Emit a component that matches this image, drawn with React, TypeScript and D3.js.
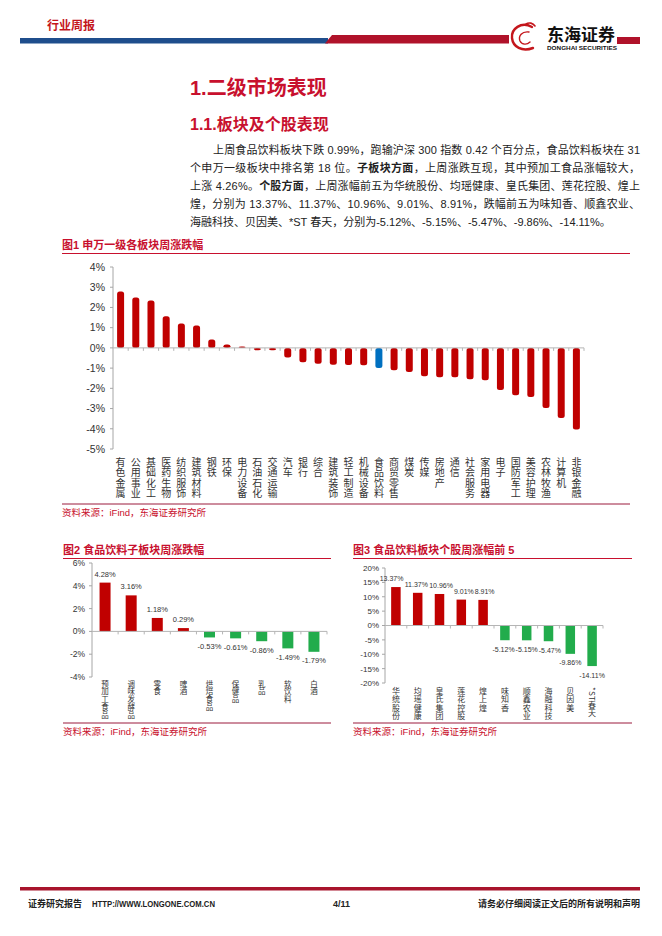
import React from "react";
import * as d3 from "d3";

const LATIN = "'Liberation Sans', Arial, 'Noto Sans CJK SC', sans-serif";
const CJK = "'Noto Sans CJK SC', 'Liberation Sans', sans-serif";
const BAR_RED = "#c00000";
const TITLE_RED = "#c8102e";
const GREEN = "#22ac4c";
const BLUE = "#0070c0";
const TEXT = "#333";

// ---- Chart 1: 申万一级各板块周涨跌幅 ----
const sectors = ["有色金属", "公用事业", "基础化工", "医药生物", "纺织服饰", "建筑材料", "钢铁", "环保", "电力设备", "石油石化", "交通运输", "汽车", "银行", "综合", "建筑装饰", "轻工制造", "机械设备", "食品饮料", "商贸零售", "煤炭", "传媒", "房地产", "通信", "社会服务", "家用电器", "电子", "国防军工", "美容护理", "农林牧渔", "计算机", "非银金融"];
const sectorChange = [2.79, 2.49, 2.34, 1.57, 1.2, 1.11, 0.41, 0.17, 0.07, -0.12, -0.12, -0.48, -0.71, -0.78, -0.83, -0.85, -0.86, -0.99, -1.11, -1.19, -1.4, -1.45, -1.45, -1.55, -1.6, -2.08, -2.34, -2.43, -2.97, -3.47, -4.04];
const highlightSector = "食品饮料";
const sectorTicks = [-5, -4, -3, -2, -1, 0, 1, 2, 3, 4];

// ---- Chart 2: 食品饮料子板块周涨跌幅 ----
const subSectors = ["预加工食品", "调味发酵品", "零食", "啤酒", "烘焙食品", "保健品", "乳品", "软饮料", "白酒"];
const subChange = [4.28, 3.16, 1.18, 0.29, -0.53, -0.61, -0.86, -1.49, -1.79];
const subTicks = [-4, -2, 0, 2, 4, 6];

// ---- Chart 3: 食品饮料板块个股周涨幅前5 ----
const stocks = ["华统股份", "均瑶健康", "皇氏集团", "莲花控股", "煌上煌", "味知香", "顺鑫农业", "海融科技", "贝因美", "*ST春天"];
const stockChange = [13.37, 11.37, 10.96, 9.01, 8.91, -5.12, -5.15, -5.47, -9.86, -14.11];
const stockTicks = [-20, -15, -10, -5, 0, 5, 10, 15, 20];

const paragraph: { text: string; bold?: boolean }[][] = [
  [{ text: "上周食品饮料板块下跌 0.99%，跑输沪深 300 指数 0.42 个百分点，食品饮料板块在 31" }],
  [{ text: "个申万一级板块中排名第 18 位。" }, { text: "子板块方面", bold: true }, { text: "，上周涨跌互现，其中预加工食品涨幅较大，" }],
  [{ text: "上涨 4.26%。" }, { text: "个股方面", bold: true }, { text: "，上周涨幅前五为华统股份、均瑶健康、皇氏集团、莲花控股、煌上" }],
  [{ text: "煌，分别为 13.37%、11.37%、10.96%、9.01%、8.91%，跌幅前五为味知香、顺鑫农业、" }],
  [{ text: "海融科技、贝因美、*ST 春天，分别为-5.12%、-5.15%、-5.47%、-9.86%、-14.11%。" }],
];

const charW: Record<string, number> = { ".": 0.278, "%": 0.889, "-": 0.333 };
function textWidth(s: string, size: number) {
  let w = 0;
  for (const ch of s) w += charW[ch] ?? 0.556;
  return w * size;
}

type ChartProps = {
  cats: string[];
  vals: number[];
  x0: number;
  x1: number;
  yTop: number;
  yBot: number;
  ticks: number[];
  tickX: number;
  tickSize: number;
  barW: number;
  negColor: string;
  highlight?: string;
  rounded?: boolean;
  valueSize?: number;
  labelTop: number;
  labelSize: number;
  labelLh: number;
};

function BarChart(p: ChartProps) {
  const x = d3.scaleBand<string>().domain(p.cats).range([p.x0, p.x1]);
  const y = d3.scaleLinear().domain([p.ticks[0], p.ticks[p.ticks.length - 1]]).range([p.yBot, p.yTop]);
  const y0 = y(0);
  const bw = x.bandwidth();
  const cxOf = (c: string) => (x(c) as number) + bw / 2;

  // value labels with simple horizontal collision relaxation
  let labels: { x: number; y: number; w: number; t: string }[] = [];
  if (p.valueSize) {
    const vs = p.valueSize;
    labels = p.cats.map((c, i) => {
      const v = p.vals[i];
      const t = v.toFixed(2) + "%";
      return { x: cxOf(c), y: v >= 0 ? y(v) - 6 : y(v) + 11.5, w: textWidth(t, vs), t };
    });
    for (let it = 0; it < 40; it++) {
      for (let i = 0; i < labels.length - 1; i++) {
        const a = labels[i];
        const b = labels[i + 1];
        if (Math.abs(a.y - b.y) >= vs * 1.2) continue;
        const ov = a.x + a.w / 2 + 1 - (b.x - b.w / 2);
        if (ov > 0) {
          a.x -= ov / 2;
          b.x += ov / 2;
        }
      }
    }
  }

  return (
    <g>
      {/* y axis */}
      <line x1={p.x0} x2={p.x0} y1={p.yTop} y2={p.yBot} stroke="#a6a6a6" strokeWidth={1} />
      {p.ticks.map((t) => (
        <g key={t}>
          <line x1={p.x0 - 3} x2={p.x0} y1={y(t)} y2={y(t)} stroke="#a6a6a6" />
          <text x={p.tickX} y={y(t) + p.tickSize * 0.36} textAnchor="end" fontSize={p.tickSize} fill={TEXT} fontFamily={LATIN}>
            {t}%
          </text>
        </g>
      ))}
      {/* bars */}
      {p.cats.map((c, i) => {
        const v = p.vals[i];
        const top = v >= 0 ? y(v) : y0;
        const h = Math.abs(y(v) - y0);
        const color = c === p.highlight ? BLUE : v >= 0 ? BAR_RED : p.negColor;
        return <rect key={c} x={cxOf(c) - p.barW / 2} y={top} width={p.barW} height={h} fill={color} rx={p.rounded ? 2.5 : 0} />;
      })}
      {/* zero axis */}
      <line x1={p.x0} x2={p.x1} y1={y0} y2={y0} stroke="#b5b5b5" strokeWidth={1} />
      {p.cats.map((c, i) => (
        <line key={"t" + i} x1={(x(c) as number) + bw} x2={(x(c) as number) + bw} y1={y0} y2={y0 + 3} stroke="#b5b5b5" />
      ))}
      {/* value labels */}
      {labels.map((l, i) => (
        <text key={"v" + i} x={l.x} y={l.y} textAnchor="middle" fontSize={p.valueSize} fill={TEXT} fontFamily={LATIN}>
          {l.t}
        </text>
      ))}
      {/* category labels (vertical writing) */}
      {p.cats.map((c) => (
        <text
          key={"l" + c}
          x={cxOf(c)}
          y={p.labelTop}
          fontSize={p.labelSize}
          fill={TEXT}
          fontFamily={CJK}
          letterSpacing={p.labelLh - p.labelSize}
          style={{ writingMode: "vertical-rl" } as React.CSSProperties}
        >
          {c}
        </text>
      ))}
    </g>
  );
}

function ChartFrame({ x0, x1, title, titleY, lineY, srcLineY }: { x0: number; x1: number; title: string; titleY: number; lineY: number; srcLineY: number }) {
  return (
    <g>
      <text x={x0} y={titleY} fontSize={11} fontWeight="bold" fill={TITLE_RED} fontFamily={LATIN}>
        {title}
      </text>
      <line x1={x0} x2={x1} y1={lineY} y2={lineY} stroke={TITLE_RED} strokeWidth={1} />
      <line x1={x0} x2={x1} y1={srcLineY} y2={srcLineY} stroke="#9b1b3c" strokeWidth={1} />
      <text x={x0} y={srcLineY + 12} fontSize={9.5} fill={TITLE_RED} fontFamily={LATIN}>
        资料来源：iFind，东海证券研究所
      </text>
    </g>
  );
}

export default function App() {
  return (
    <svg width={662} height={936} style={{ position: "absolute", left: 0, top: 0, background: "#fff" }}>
      <rect x={0} y={0} width={662} height={936} fill="#fff" />
      {/* header */}
      <text x={47} y={29.5} fontSize={12} fontWeight="bold" fill="#c4161c" fontFamily={CJK}>
        行业周报
      </text>
      <rect x={20} y={38} width={308} height={5.5} fill="#1f4e8c" />
      <polygon points="325,43.5 332,35 509,35 509,43.5" fill="#b0122a" />
      <g fill="none" stroke="#c4161c" strokeLinecap="round">
        <path d="M532,27 C521,21 511,29 512,38 C513,47 522,52 533,48" strokeWidth={2.4} />
        <path d="M529,32 C522,31 518,36 520,41 C522,45 527,45 530,42" strokeWidth={1.4} />
        <path d="M526,24 C529,22 533,23 535,26" strokeWidth={1.6} />
      </g>
      <text x={547} y={41} fontSize={16.5} fontWeight="bold" fill="#111" fontFamily={CJK} textLength={68} lengthAdjust="spacingAndGlyphs">
        东海证券
      </text>
      <text x={547} y={50} fontSize={6} fontWeight="bold" fill="#111" fontFamily={LATIN} textLength={70} lengthAdjust="spacingAndGlyphs">
        DONGHAI SECURITIES
      </text>
      <rect x={617} y={37} width={23} height={7} fill="#b0122a" />

      {/* titles */}
      <text x={190} y={95} fontSize={20} fontWeight="bold" fill={TITLE_RED} fontFamily={LATIN}>
        1.二级市场表现
      </text>
      <text x={190} y={129.5} fontSize={16} fontWeight="bold" fill={TITLE_RED} fontFamily={LATIN}>
        1.1.板块及个股表现
      </text>
      {paragraph.map((line, i) => {
        const x = i === 0 ? 213 : 190;
        const justify = i < paragraph.length - 1;
        return (
          <text key={i} x={x} y={154 + i * 18} fontSize={11} fill="#222" fontFamily={LATIN} {...(justify ? { textLength: 640 - x, lengthAdjust: "spacing" } : {})}>
            {line.map((s, j) => (
              <tspan key={j} fontWeight={s.bold ? "bold" : "normal"}>
                {s.text}
              </tspan>
            ))}
          </text>
        );
      })}

      {/* chart 1 */}
      <ChartFrame x0={62} x1={630} title="图1  申万一级各板块周涨跌幅" titleY={249} lineY={253.5} srcLineY={504} />
      <BarChart
        cats={sectors}
        vals={sectorChange}
        x0={113}
        x1={584}
        yTop={267}
        yBot={449}
        ticks={sectorTicks}
        tickX={105}
        tickSize={10.5}
        barW={7}
        negColor={BAR_RED}
        highlight={highlightSector}
        rounded
        labelTop={457}
        labelSize={10}
        labelLh={10.5}
      />

      {/* chart 2 */}
      <ChartFrame x0={63} x1={331} title="图2  食品饮料子板块周涨跌幅" titleY={554} lineY={558.5} srcLineY={723} />
      <BarChart
        cats={subSectors}
        vals={subChange}
        x0={92}
        x1={327}
        yTop={563}
        yBot={677}
        ticks={subTicks}
        tickX={85}
        tickSize={8.5}
        barW={11}
        negColor={GREEN}
        valueSize={7.5}
        labelTop={680}
        labelSize={7.5}
        labelLh={7.8}
      />

      {/* chart 3 */}
      <ChartFrame x0={353} x1={632} title="图3  食品饮料板块个股周涨幅前 5" titleY={554} lineY={558.5} srcLineY={723} />
      <BarChart
        cats={stocks}
        vals={stockChange}
        x0={385}
        x1={603}
        yTop={568}
        yBot={683}
        ticks={stockTicks}
        tickX={379}
        tickSize={8}
        barW={9.5}
        negColor={GREEN}
        valueSize={7}
        labelTop={687}
        labelSize={8}
        labelLh={8.3}
      />

      {/* footer */}
      <rect x={20} y={887} width={620} height={3.5} fill="#a8142c" />
      <text x={28} y={906.5} fontSize={9} fontWeight="bold" fill="#222" fontFamily={CJK}>
        证券研究报告
      </text>
      <text x={92} y={906.5} fontSize={9} fontWeight="bold" fill="#222" fontFamily={LATIN} textLength={123} lengthAdjust="spacingAndGlyphs">
        HTTP://WWW.LONGONE.COM.CN
      </text>
      <text x={333} y={906.5} fontSize={9} fontWeight="bold" fill="#222" fontFamily={LATIN}>
        4/11
      </text>
      <text x={640} y={906.5} fontSize={9} fontWeight="bold" fill="#222" fontFamily={CJK} textAnchor="end">
        请务必仔细阅读正文后的所有说明和声明
      </text>
    </svg>
  );
}
